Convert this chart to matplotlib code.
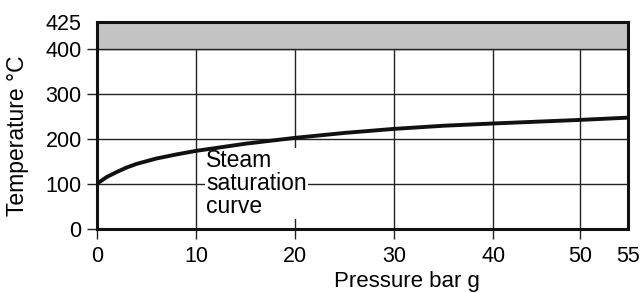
import numpy as np
import matplotlib
matplotlib.use("Agg")
import matplotlib.pyplot as plt

# steam saturation curve
pressure = [0, 1, 2, 3, 4, 6, 8, 10, 15, 20, 25, 30, 35, 40, 45, 50, 55]
temperature = [101, 116, 127, 137, 145, 157, 166, 174, 190, 203, 214, 223, 230, 235, 239, 243, 248]

x_ticks = [0, 10, 20, 30, 40, 50, 55]
y_ticks = [0, 100, 200, 300, 400, 425]
limit_temp = 400
top_temp = 425

plt.rcParams['font.family'] = ['Liberation Sans', 'DejaVu Sans']


def piecewise(src, dst):
    # piecewise linear map that extrapolates with the end slopes
    src = np.asarray(src, float)
    dst = np.asarray(dst, float)

    def f(v):
        v = np.asarray(v, float)
        out = np.interp(v, src, dst)
        lo = (dst[1] - dst[0]) / (src[1] - src[0])
        hi = (dst[-1] - dst[-2]) / (src[-1] - src[-2])
        out = np.where(v < src[0], dst[0] + (v - src[0]) * lo, out)
        out = np.where(v > src[-1], dst[-1] + (v - src[-1]) * hi, out)
        return out
    return f


# the drawing is not quite linear: 40-55 bar is squeezed, 400-425 stretched
x_fwd = piecewise([0, 40, 50, 55], [0, 40, 48.8, 53.6])
x_inv = piecewise([0, 40, 48.8, 53.6], [0, 40, 50, 55])
y_fwd = piecewise([0, 400, 425], [0, 400, 461])
y_inv = piecewise([0, 400, 461], [0, 400, 425])

fig = plt.figure(figsize=(6.41, 2.93), dpi=100)
ax = fig.add_axes([97 / 641, 1 - 229 / 293, 531 / 641, 207 / 293])
ax.set_xscale('function', functions=(x_fwd, x_inv))
ax.set_yscale('function', functions=(y_fwd, y_inv))
ax.set_xlim(0, 55)
ax.set_ylim(0, top_temp)

for xv in x_ticks[1:-1]:
    ax.axvline(xv, color='#222222', lw=1.0, zorder=1)
for yv in y_ticks[1:-1]:
    ax.axhline(yv, color='#222222', lw=1.0, zorder=1)

ax.axhspan(limit_temp, top_temp, color='#c4c4c4', zorder=2)
ax.axhline(limit_temp, color='#222222', lw=1.0, zorder=2)

ax.plot(pressure, temperature, color='#111111', lw=2.8, zorder=4,
        solid_capstyle='butt')

ax.text(11, 178, "Steam\nsaturation\ncurve", fontsize=16.5, ha='left', va='top',
        linespacing=1.0, zorder=3,
        bbox=dict(facecolor='white', edgecolor='none', pad=1))

ax.set_xticks(x_ticks)
ax.set_yticks(y_ticks)
ax.set_xticklabels([str(v) for v in x_ticks])
ax.set_yticklabels([str(v) for v in y_ticks])
ax.tick_params(axis='both', direction='out', length=7, width=1.0,
               color='#222222', labelsize=15.5, pad=4)
ax.tick_params(axis='x', pad=5)
ax.xaxis.get_major_ticks()[-1].tick1line.set_visible(False)
ax.yaxis.get_major_ticks()[-1].tick1line.set_visible(False)

for sp in ax.spines.values():
    sp.set_linewidth(2.2)
    sp.set_color('#111111')
    sp.set_zorder(5)

ax.set_xlabel("Pressure bar g", fontsize=16, va='baseline')
ax.xaxis.set_label_coords((407 - 97) / 531, -0.28)
ax.set_ylabel("Temperature °C", fontsize=16.5, va='center')
ax.yaxis.set_label_coords((18 - 97) / 531, 0.45)

fig.savefig("out.png", dpi=100)
